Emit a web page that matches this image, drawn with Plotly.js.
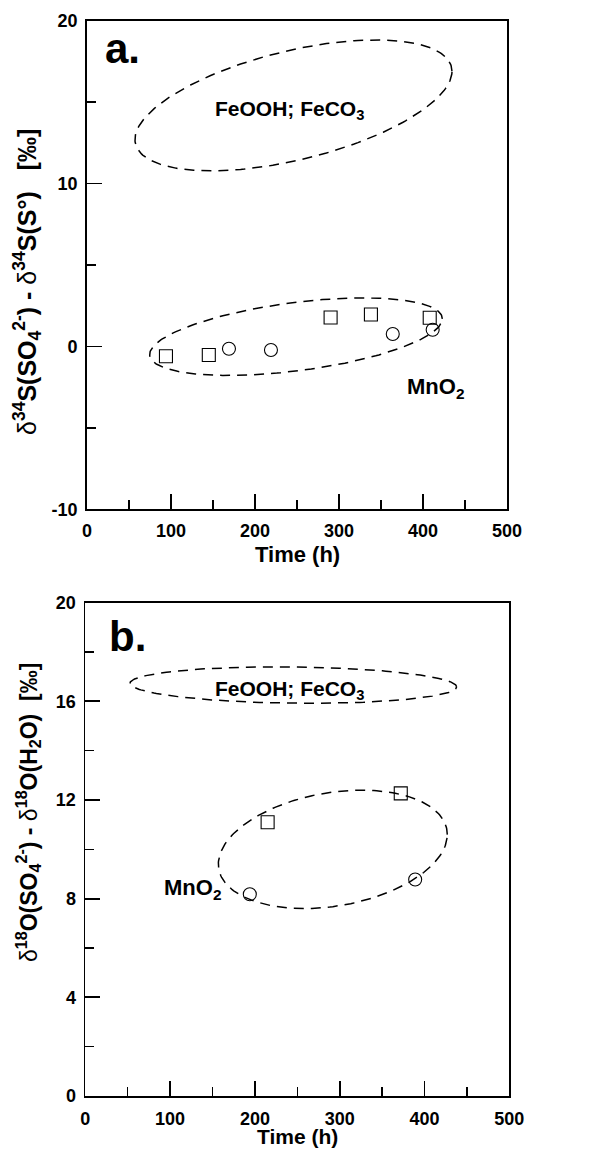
<!DOCTYPE html>
<html>
<head>
<meta charset="utf-8">
<script src="https://cdn.plot.ly/plotly-3.0.1.min.js"></script>
<style>html,body{margin:0;padding:0;background:#fff;}#chart{width:608px;height:1151px;}</style>
</head>
<body>
<div id="chart"></div>
<script>
// ---- Panel a data: delta34S(SO4) - delta34S(S0) vs time ----
var aSquareTime = [94, 145, 290, 338, 408];
var aSquareVal  = [-0.6, -0.53, 1.78, 1.96, 1.76];
var aCircleTime = [169, 219, 364, 411.5];
var aCircleVal  = [-0.14, -0.22, 0.76, 1.02];

// ---- Panel b data: delta18O(SO4) - delta18O(H2O) vs time ----
var bSquareTime = [215, 372];
var bSquareVal  = [11.1, 12.27];
var bCircleTime = [194, 389];
var bCircleVal  = [8.18, 8.78];

// ---- Field ellipses: [centerX, centerY, halfWidthX, halfHeightY, tilt cos] ----
var aFeField  = [245.8, 14.8, 188.7, 4.02, 0.52];
var aMnField  = [248.8, 0.6, 174.2, 2.38, 0.46];
var bFeField  = [245.3, 16.66, 192.6, 0.74, -0.1];
var bMnField  = [291.9, 10.0, 135, 2.4, 0.25];

// tick labels
var xTicks = [0, 100, 200, 300, 400, 500];
var aYTicks = [-10, 0, 10, 20];
var bYTicks = [0, 4, 8, 12, 16, 20];

function ellipse(p) {
  var phi = Math.acos(p[4]);
  var xs = [], ys = [];
  for (var i = 0; i <= 240; i++) {
    var t = 2 * Math.PI * i / 240;
    xs.push(p[0] + p[2] * Math.cos(t));
    ys.push(p[1] + p[3] * Math.cos(t - phi));
  }
  return {x: xs, y: ys};
}

var FONT = 'Liberation Sans, Arial, Helvetica, sans-serif';
var dashLine = {color: '#000', width: 1.5, dash: '10px,7px'};

function ell(p, xa, ya) {
  var e = ellipse(p);
  return {x: e.x, y: e.y, xaxis: xa, yaxis: ya, mode: 'lines', line: dashLine, hoverinfo: 'skip', showlegend: false};
}
function pts(x, y, sym, xa, ya) {
  return {x: x, y: y, xaxis: xa, yaxis: ya, mode: 'markers', showlegend: false,
    marker: {symbol: sym, size: 13, color: '#000', line: {width: 1.1, color: '#000'}}};
}

var data = [
  ell(aFeField, 'x', 'y'), ell(aMnField, 'x', 'y'),
  pts(aSquareTime, aSquareVal, 'square-open', 'x', 'y'),
  pts(aCircleTime, aCircleVal, 'circle-open', 'x', 'y'),
  ell(bFeField, 'x2', 'y2'), ell(bMnField, 'x2', 'y2'),
  pts(bSquareTime, bSquareVal, 'square-open', 'x2', 'y2'),
  pts(bCircleTime, bCircleVal, 'circle-open', 'x2', 'y2')
];

var W = 608, H = 1151;
function px(v) { return v / W; }
function py(v) { return 1 - v / H; }

function axisBase(extra) {
  var a = {
    showline: true, mirror: true, linecolor: '#000', linewidth: 1.8,
    ticks: 'inside', ticklen: 15, tickwidth: 1.8, tickcolor: '#000',
    showgrid: false, zeroline: false, fixedrange: true,
    tickfont: {family: FONT, size: 18, color: '#000', weight: 'bold'}
  };
  for (var k in extra) a[k] = extra[k];
  return a;
}
function minorTicks(step) {
  return {ticks: 'inside', ticklen: 9, tickwidth: 1.5, tickcolor: '#000', dtick: step, tick0: 0, showgrid: false};
}

var layout = {
  width: W, height: H,
  margin: {l: 0, r: 0, t: 0, b: 0},
  paper_bgcolor: '#fff', plot_bgcolor: '#fff',
  showlegend: false,
  xaxis: axisBase({domain: [px(87), px(507)], anchor: 'y', range: [0, 500],
    tickvals: xTicks, ticktext: xTicks.map(String), minor: minorTicks(50), ticklabelstandoff: 4}),
  yaxis: axisBase({domain: [py(509.3), py(20.7)], anchor: 'x', range: [-10, 20],
    tickvals: aYTicks, ticktext: aYTicks.map(String), minor: minorTicks(5), ticklabelstandoff: 4}),
  xaxis2: axisBase({domain: [px(85.3), px(509.3)], anchor: 'y2', range: [0, 500],
    tickvals: xTicks, ticktext: xTicks.map(String), minor: minorTicks(50), ticklabelstandoff: 6}),
  yaxis2: axisBase({domain: [py(1096), py(602.7)], anchor: 'x2', range: [0, 20],
    tickvals: bYTicks, ticktext: bYTicks.map(String), minor: minorTicks(2), ticklabelstandoff: 4}),
  annotations: []
};

function ann(text, x, y, size, opts) {
  var a = {text: text, xref: 'paper', yref: 'paper', x: px(x), y: py(y), showarrow: false,
    xanchor: 'center', yanchor: 'middle',
    font: {family: FONT, size: size, color: '#000', weight: 'bold'}};
  for (var k in (opts || {})) a[k] = opts[k];
  layout.annotations.push(a);
}
var d = '<span style="font-weight:normal">δ</span>';
ann('a.', 103, 48, 42, {xanchor: 'left'});
ann('b.', 107, 637, 42, {xanchor: 'left'});
ann('FeOOH; FeCO<sub>3</sub>', 289, 110, 21);
ann('FeOOH; FeCO<sub>3</sub>', 289, 690, 21);
ann('MnO<sub>2</sub>', 435, 388, 22);
ann('MnO<sub>2</sub>', 193, 889, 22);
ann('Time (h)', 297.5, 554, 22);
ann('Time (h)', 297.5, 1136, 21);
ann(d + '<sup>34</sup>S(SO<sub>4</sub><sup>2-</sup>) - ' + d + '<sup>34</sup>S(S°)   [‰]', 27, 282, 25, {textangle: -90});
ann(d + '<sup>18</sup>O(SO<sub>4</sub><sup>2-</sup>) - ' + d + '<sup>18</sup>O(H<sub>2</sub>O)  [‰]', 28, 813, 23, {textangle: -90});

Plotly.newPlot('chart', data, layout, {staticPlot: true, displayModeBar: false});
</script>
</body>
</html>
